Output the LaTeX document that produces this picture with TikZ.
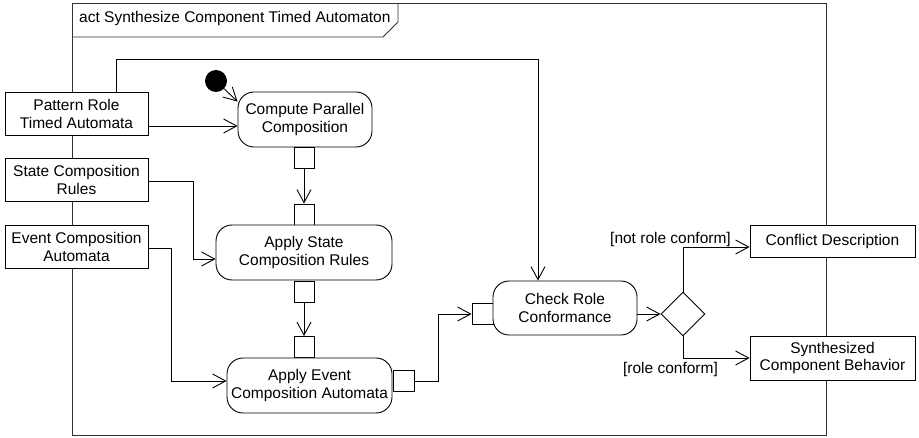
\documentclass[tikz,border=0pt]{standalone}
\usepackage{fontspec}
\setmainfont{Liberation Sans}
\usetikzlibrary{arrows.meta,shapes.geometric,calc}
\tikzset{
  base/.style={draw=black, line width=0.9pt, fill=white, inner sep=0pt, align=center,
    font=\fontsize{15.5}{17.5}\selectfont},
  objbox/.style={base, minimum width=143pt, minimum height=43pt},
  actbox/.style={base, rounded corners=16pt, minimum height=55pt},
  pinbox/.style={base, minimum width=20pt, minimum height=21pt},
  outbox/.style={base, minimum width=165pt},
  conn/.style={line width=0.9pt, draw=black, -{Straight Barb[length=13pt,width=14pt,line width=0.9pt]}},
  lbl/.style={inner sep=0pt, font=\fontsize{15.5}{17.5}\selectfont}
}
\begin{document}
\begin{tikzpicture}[x=1pt,y=-1pt]
\useasboundingbox (0,0) rectangle (919,438);
% frame
\draw[line width=0.9pt, draw=black!80] (72,3) rectangle (826,435);
\draw[line width=0.9pt, draw=black!80] (72,37) -- (383,37) -- (398,22) -- (398,3);
\node[lbl, anchor=west] (title) at (79,18) {act Synthesize Component Timed Automaton};

% top connector drawn before boxes
\coordinate (topleft) at (116,59);
\coordinate (topright) at (538,59);

% object nodes
\node[objbox] (pra) at (76.5,114) {Pattern Role\\Timed Automata};
\node[objbox] (scr) at (76.5,180) {State Composition\\Rules};
\node[objbox] (eca) at (76.5,247) {Event Composition\\Automata};

% initial node
\node[circle, fill=black, minimum size=22pt, inner sep=0pt] (init) at (216,81) {};

% actions
\node[actbox, minimum width=134pt] (cpc) at (305,119.5) {Compute Parallel\\Composition};
\node[pinbox] (pin1) at (304,157.5) {};
\node[pinbox] (pin2) at (304,214.5) {};
\node[actbox, minimum width=176pt] (asr) at (304,252.5) {Apply State\\Composition Rules};
\node[pinbox] (pin3) at (304,291.5) {};
\node[pinbox] (pin4) at (304,347) {};
\node[actbox, minimum width=165pt] (aec) at (309.5,385.5) {Apply Event\\Composition Automata};
\node[pinbox, minimum width=21pt] (pin5) at (403.5,381) {};
\node[pinbox, minimum width=21pt] (pin6) at (482.5,314) {};
\node[actbox, minimum width=144pt, minimum height=54pt] (crc) at (565,308) {Check Role\\Conformance};
\node[diamond, draw=black, line width=0.9pt, fill=white, minimum width=44pt, minimum height=44pt, inner sep=0pt, aspect=1] (dia) at (683,314) {};

% outputs
\node[outbox, minimum height=32pt] (cd) at (832.5,241) {Conflict Description};
\node[outbox, minimum height=44pt] (scb) at (832.5,358) {Synthesized\\Component Behavior};

% connectors
\draw[conn] (init) -- ($(cpc.north west)+(0,10)$);
\draw[conn] ($(pra.east)+(0,12)$) -- ($(cpc.west)+(0,6.5)$);
\draw[conn] (pra.north -| topleft) -- (topleft) -- (topright) -- (crc.north -| topright);
\draw[conn] ($(scr.east)+(0,1)$) -- (193,181) |- ($(asr.west)+(0,6.5)$);
\draw[conn] ($(eca.east)+(0,1)$) -- (171,248) |- ($(aec.west)+(0,-4.5)$);
\draw[conn] (pin1.south) -- (pin2.north);
\draw[conn] (pin3.south) -- (pin4.north);
\draw[conn] (pin5.east) -- (438,381) |- (pin6.west);
\draw[conn] (crc.east |- dia.west) -- (dia.west);
\draw[conn] (dia.north) |- ($(cd.west)+(0,6)$);
\draw[conn] (dia.south) |- (scb.west);

% guards
\node[lbl, anchor=east] (g1) at (731,239) {[not role conform]};
\node[lbl] (g2) at (670.5,369) {[role conform]};
\end{tikzpicture}
\end{document}
